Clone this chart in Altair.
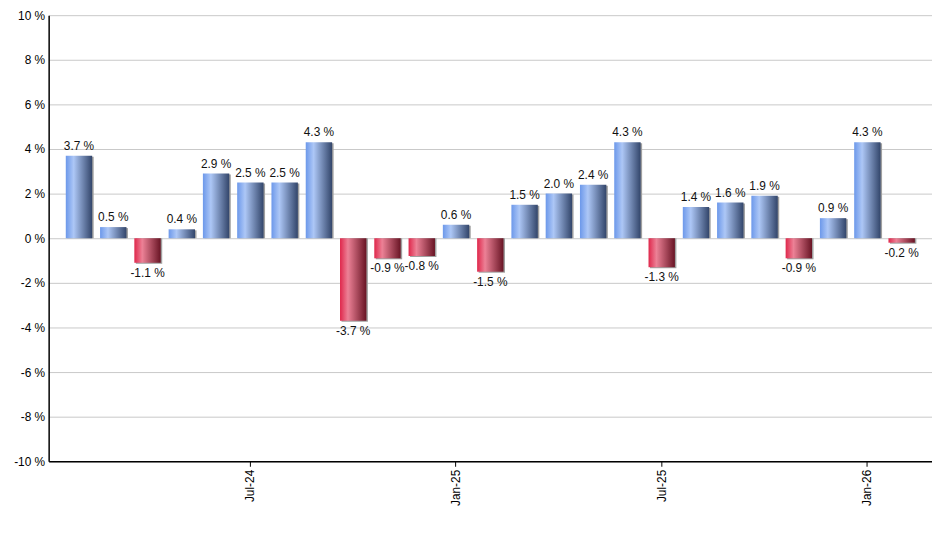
import altair as alt
import pandas as pd

months = ['Feb-24', 'Mar-24', 'Apr-24', 'May-24', 'Jun-24', 'Jul-24', 'Aug-24', 'Sep-24',
          'Oct-24', 'Nov-24', 'Dec-24', 'Jan-25', 'Feb-25', 'Mar-25', 'Apr-25', 'May-25',
          'Jun-25', 'Jul-25', 'Aug-25', 'Sep-25', 'Oct-25', 'Nov-25', 'Dec-25', 'Jan-26',
          'Feb-26']
returns = [3.7, 0.5, -1.1, 0.4, 2.9, 2.5, 2.5, 4.3, -3.7, -0.9, -0.8, 0.6, -1.5, 1.5,
           2.0, 2.4, 4.3, -1.3, 1.4, 1.6, 1.9, -0.9, 0.9, 4.3, -0.2]
shown_months = ['Jul-24', 'Jan-25', 'Jul-25', 'Jan-26']
y_ticks = [-10, -8, -6, -4, -2, 0, 2, 4, 6, 8, 10]

df = pd.DataFrame({'Month': months, 'Return': returns})
df['Label'] = df['Return'].map(lambda v: f'{v:.1f} %')

FONT = 'Liberation Sans'

blue = alt.Gradient(
    gradient='linear', x1=0, x2=1, y1=0, y2=0,
    stops=[alt.GradientStop(color='#6c98ea', offset=0),
           alt.GradientStop(color='#adc7f6', offset=0.3),
           alt.GradientStop(color='#32456a', offset=1)])
red = alt.Gradient(
    gradient='linear', x1=0, x2=1, y1=0, y2=0,
    stops=[alt.GradientStop(color='#df274b', offset=0),
           alt.GradientStop(color='#ec8196', offset=0.3),
           alt.GradientStop(color='#681424', offset=1)])

x = alt.X('Month:N', sort=months, title=None,
          scale=alt.Scale(paddingInner=0.23, paddingOuter=0.5),
          axis=alt.Axis(values=shown_months, labelAngle=270, labelAlign='right',
                        labelBaseline='middle', labelFont=FONT, labelFontSize=12,
                        labelColor='#000', tickColor='#000', tickSize=5,
                        domainColor='#000', domainWidth=1.5, labelPadding=3,
                        grid=False))
y = alt.Y('Return:Q', title=None,
          scale=alt.Scale(domain=[-10, 10], nice=False),
          axis=alt.Axis(values=y_ticks, labelExpr="datum.value + ' %'",
                        labelFont=FONT, labelFontSize=12, labelColor='#000',
                        ticks=False, labelPadding=4, domainColor='#000',
                        domainWidth=1.5, gridColor='#c8c8c8', gridWidth=1))

base = alt.Chart(df)

shadow = base.mark_bar(color='#a0a0a0', xOffset=1.5, yOffset=1).encode(
    x=x, y=y, y2=alt.datum(0))
pos = base.transform_filter('datum.Return >= 0').mark_bar(color=blue).encode(
    x=x, y=y, y2=alt.datum(0))
neg = base.transform_filter('datum.Return < 0').mark_bar(color=red).encode(
    x=x, y=y, y2=alt.datum(0))

pos_text = base.transform_filter('datum.Return >= 0').mark_text(
    baseline='bottom', dy=-3, font=FONT, fontSize=12, color='#111').encode(
    x=x, y=y, text='Label:N')
neg_text = base.transform_filter('datum.Return < 0').mark_text(
    baseline='top', dy=5, font=FONT, fontSize=12, color='#111').encode(
    x=x, y=y, text='Label:N')

chart = alt.layer(shadow, pos, neg, pos_text, neg_text).properties(
    width=891,
    height=450,
    autosize=alt.AutoSizeParams(type='none'),
    padding={'left': 41, 'top': 5, 'right': 0, 'bottom': 60}
).configure_view(stroke=None)

chart.save('out.html', embed_options={'renderer': 'svg', 'actions': False})
